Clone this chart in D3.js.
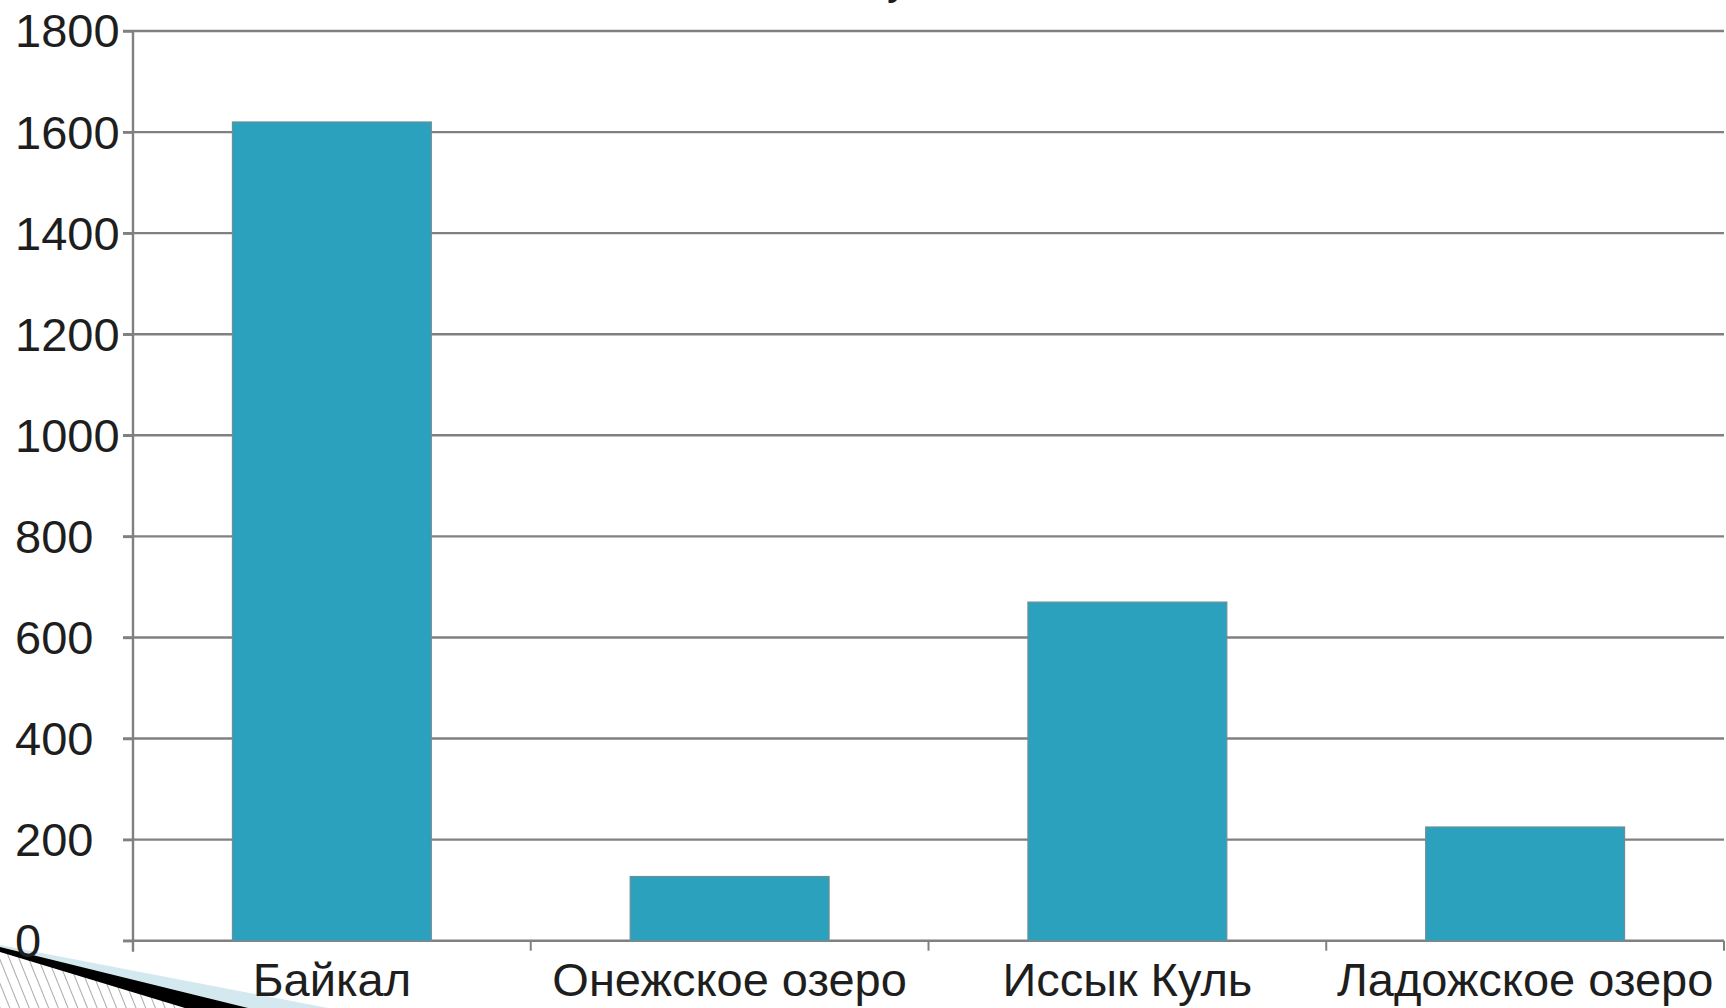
<!DOCTYPE html>
<html>
<head>
<meta charset="utf-8">
<script src="https://cdn.jsdelivr.net/npm/d3@7"></script>
<style>
  html, body { margin: 0; padding: 0; background: #fff; overflow: hidden; }
  svg { display: block; }
  text { font-family: "Liberation Sans", Arial, sans-serif; fill: #1e1e1e; }
</style>
</head>
<body>
<svg id="chart" width="1726" height="1008"></svg>
<script>
// ---- data ----
const categories = ["Байкал", "Онежское озеро", "Иссык Куль", "Ладожское озеро"];
const depths = [1620, 127, 670, 225];
const yTicks = [0, 200, 400, 600, 800, 1000, 1200, 1400, 1600, 1800];
const titleText = "Глубина";

const W = 1726, H = 1008;
const margin = { left: 133, right: 2, top: 31, bottom: 67 };
const svg = d3.select("#chart");

const defs = svg.append("defs");
const pat = defs.append("pattern")
  .attr("id", "hatch").attr("patternUnits", "userSpaceOnUse")
  .attr("width", 9).attr("height", 9)
  .attr("patternTransform", "rotate(-22)");
pat.append("rect").attr("width", 9).attr("height", 9).attr("fill", "#fff");
pat.append("line").attr("x1", 0).attr("y1", 0).attr("x2", 0).attr("y2", 9)
  .attr("stroke", "#555").attr("stroke-width", 1);

// slide decoration (bottom-left swoosh), drawn first
const deco = svg.append("g");
deco.append("path").attr("d", "M0,945 L328,1008 L0,1008 Z").attr("fill", "#d4e8f0");
deco.append("path").attr("d", "M0,951 L187,1008 L0,1008 Z").attr("fill", "url(#hatch)");
deco.append("path").attr("d", "M0,947 L248,1008 L185,1008 L0,952 Z").attr("fill", "#000");

const x = d3.scaleBand().domain(categories)
  .range([margin.left, W - margin.right]).paddingInner(0.5).paddingOuter(0.25);
const xEdge = d3.scaleBand().domain(categories)
  .range([margin.left, W - margin.right]).padding(0);
const y = d3.scaleLinear().domain([0, 1800]).range([H - margin.bottom - 0.3, margin.top]);

const gridColor = "#808080";

// gridlines
svg.append("g").selectAll("line").data(yTicks).join("line")
  .attr("x1", margin.left - 10).attr("x2", W - margin.right)
  .attr("y1", d => y(d)).attr("y2", d => y(d))
  .attr("stroke", gridColor).attr("stroke-width", 2.4);

// bars
svg.append("g").selectAll("rect").data(categories).join("rect")
  .attr("x", d => x(d)).attr("width", x.bandwidth())
  .attr("y", (d, i) => y(depths[i]))
  .attr("height", (d, i) => y(0) - y(depths[i]))
  .attr("fill", "#2ca1bd").attr("stroke", "#6d8f97").attr("stroke-width", 1.2);

// y axis (labels left-aligned at the slide edge)
const yAxis = d3.axisLeft(y).tickValues(yTicks).tickSize(10).tickPadding(5).tickFormat(d3.format("d"));
const gy = svg.append("g").attr("transform", `translate(${margin.left},0)`).call(yAxis);
gy.select(".domain").attr("stroke", gridColor).attr("stroke-width", 2.4)
  .attr("d", `M0,${y(1800)}V${y(0) + 11}`);
gy.selectAll(".tick line").attr("stroke", gridColor).attr("stroke-width", 2.4);
gy.selectAll(".tick text").attr("font-size", 47).attr("fill", "#1e1e1e")
  .attr("font-family", '"Liberation Sans", Arial, sans-serif').attr("dy", "0.34em")
  .attr("text-anchor", "start").attr("x", 15 - margin.left);

// x axis ticks at band edges
const edges = categories.map(c => xEdge(c) + xEdge.bandwidth());
svg.append("g").selectAll("line").data(edges).join("line")
  .attr("x1", d => d).attr("x2", d => d)
  .attr("y1", y(0)).attr("y2", y(0) + 10)
  .attr("stroke", gridColor).attr("stroke-width", 2);

// category labels
svg.append("g").selectAll("text").data(categories).join("text")
  .attr("x", d => xEdge(d) + xEdge.bandwidth() / 2)
  .attr("y", 996)
  .attr("text-anchor", "middle")
  .attr("font-size", 47)
  .text(d => d);

// title (mostly cut off at top of slide, as in the reference)
const title = svg.append("text").attr("y", -6).attr("font-size", 45).attr("x", 0).text(titleText);
const tNode = title.node();
const pre = tNode.getSubStringLength(0, 2);
const uw = tNode.getSubStringLength(2, 1);
title.attr("x", 895 - pre - uw * 0.35);
</script>
</body>
</html>
